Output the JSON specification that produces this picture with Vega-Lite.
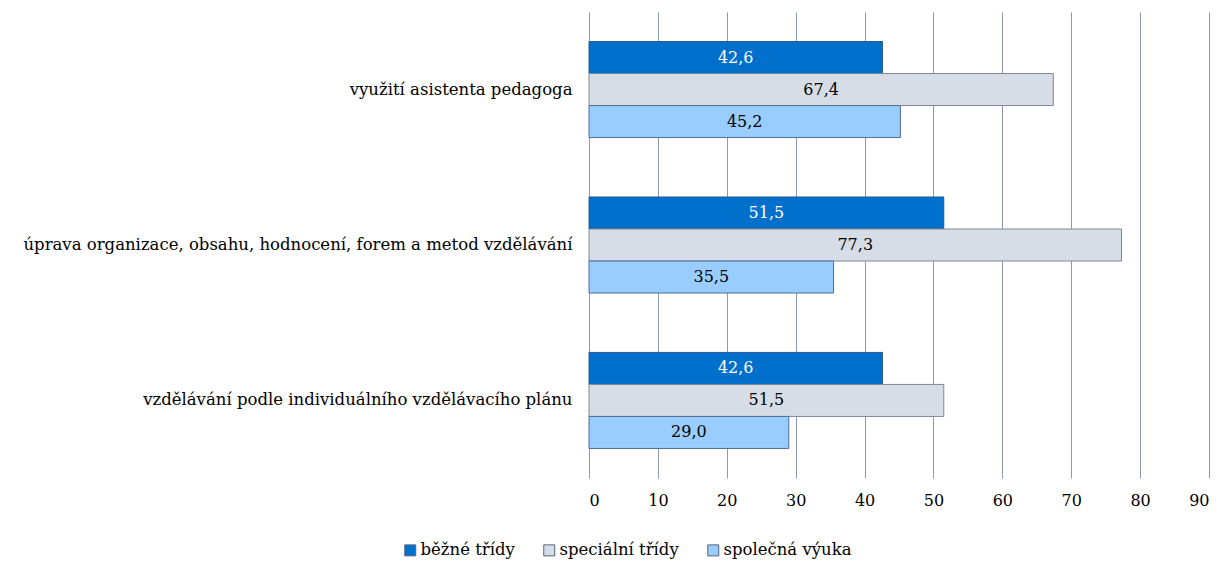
{
  "$schema": "https://vega.github.io/schema/vega-lite/v6.json",
  "width": 620,
  "height": 466,
  "autosize": {"type": "none"},
  "padding": {"left": 589, "top": 12, "right": 11, "bottom": 84},
  "background": "white",
  "config": {
    "view": {"stroke": null},
    "font": "DejaVu Serif",
    "locale": {
      "number": {"decimal": ",", "thousands": " ", "grouping": [3], "currency": ["", " Kč"]}
    }
  },
  "data": {
    "values": [
      {"oblast": "využití asistenta pedagoga", "series": "běžné třídy", "value": 42.6},
      {"oblast": "využití asistenta pedagoga", "series": "speciální třídy", "value": 67.4},
      {"oblast": "využití asistenta pedagoga", "series": "společná výuka", "value": 45.2},
      {"oblast": "úprava organizace, obsahu, hodnocení, forem a metod vzdělávání", "series": "běžné třídy", "value": 51.5},
      {"oblast": "úprava organizace, obsahu, hodnocení, forem a metod vzdělávání", "series": "speciální třídy", "value": 77.3},
      {"oblast": "úprava organizace, obsahu, hodnocení, forem a metod vzdělávání", "series": "společná výuka", "value": 35.5},
      {"oblast": "vzdělávání podle individuálního vzdělávacího plánu", "series": "běžné třídy", "value": 42.6},
      {"oblast": "vzdělávání podle individuálního vzdělávacího plánu", "series": "speciální třídy", "value": 51.5},
      {"oblast": "vzdělávání podle individuálního vzdělávacího plánu", "series": "společná výuka", "value": 29.0}
    ]
  },
  "encoding": {
    "y": {
      "field": "oblast",
      "type": "nominal",
      "sort": null,
      "title": null,
      "scale": {"paddingInner": 0.382, "paddingOuter": 0.19},
      "axis": {
        "ticks": false,
        "domain": false,
        "labelFont": "DejaVu Serif",
        "labelFontSize": 16.5,
        "labelColor": "#000000",
        "labelPadding": 17,
        "labelLimit": 700
      }
    },
    "yOffset": {
      "field": "series",
      "type": "nominal",
      "sort": ["běžné třídy", "speciální třídy", "společná výuka"],
      "scale": {"paddingInner": 0, "paddingOuter": 0}
    }
  },
  "layer": [
    {
      "mark": {"type": "bar", "strokeWidth": 1},
      "encoding": {
        "x": {
          "field": "value",
          "type": "quantitative",
          "title": null,
          "scale": {"domain": [0, 90], "nice": false},
          "axis": {
            "values": [0, 10, 20, 30, 40, 50, 60, 70, 80, 90],
            "format": "d",
            "grid": true,
            "gridColor": "#8a9ab4",
            "gridWidth": 1,
            "gridOpacity": 1,
            "ticks": false,
            "domain": false,
            "labelFont": "DejaVu Serif",
            "labelFontSize": 16,
            "labelColor": "#000000",
            "labelPadding": 14
          }
        },
        "color": {
          "field": "series",
          "type": "nominal",
          "sort": ["běžné třídy", "speciální třídy", "společná výuka"],
          "scale": {"range": ["#0070cc", "#d7dde6", "#99ccff"]},
          "legend": {
            "title": null,
            "orient": "none",
            "direction": "horizontal",
            "legendX": -187,
            "legendY": 530,
            "symbolType": "square",
            "symbolSize": 121,
            "symbolStrokeWidth": 1,
            "symbolStrokeColor": "#55657d",
            "symbolOpacity": 1,
            "labelFont": "DejaVu Serif",
            "labelFontSize": 16.5,
            "labelColor": "#000000",
            "labelOffset": 2,
            "columnPadding": 26
          }
        },
        "stroke": {
          "field": "series",
          "type": "nominal",
          "sort": ["běžné třídy", "speciální třídy", "společná výuka"],
          "scale": {"range": ["#2b5a8c", "#7f8694", "#4d6f94"]},
          "legend": null
        }
      }
    },
    {
      "transform": [{"calculate": "datum.value / 2", "as": "mid"}],
      "mark": {"type": "text", "font": "DejaVu Serif", "fontSize": 16, "align": "center", "baseline": "middle"},
      "encoding": {
        "x": {"field": "mid", "type": "quantitative"},
        "text": {"field": "value", "type": "quantitative", "format": ".1f"},
        "color": {
          "condition": {"test": "datum.series === 'běžné třídy'", "value": "#ffffff"},
          "value": "#000000"
        }
      }
    }
  ]
}
